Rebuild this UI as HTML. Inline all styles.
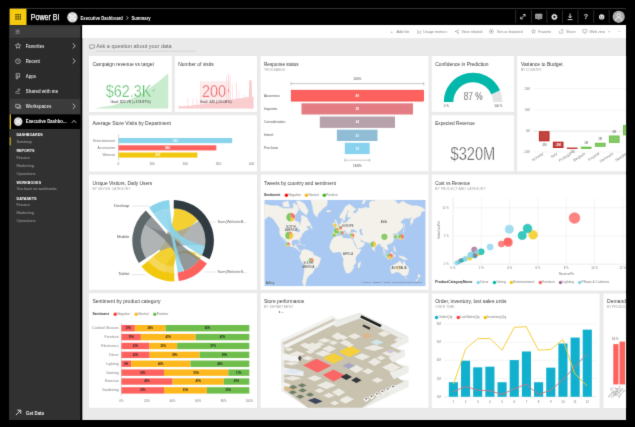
<!DOCTYPE html>
<html><head><meta charset="utf-8"><title>Power BI</title>
<style>
html,body{margin:0;padding:0;background:#000;}
body{width:635px;height:427px;overflow:hidden;font-family:"Liberation Sans",sans-serif;}
svg{display:block;position:absolute;left:0;top:0;}
text{font-family:"Liberation Sans",sans-serif;}
</style></head><body>
<svg width="635" height="427" viewBox="0 0 635 427" font-family="Liberation Sans, sans-serif">
<defs><filter id="soft" x="0" y="0" width="100%" height="100%" filterUnits="objectBoundingBox" color-interpolation-filters="sRGB"><feConvolveMatrix order="3" kernelMatrix="0.011 0.084 0.011 0.084 0.62 0.084 0.011 0.084 0.011" divisor="1" edgeMode="duplicate" preserveAlpha="true"/></filter><clipPath id="content"><rect x="9.5" y="8.4" width="616.6" height="411.6"/></clipPath></defs>
<g filter="url(#soft)"><rect x="0" y="0" width="635" height="427" fill="#000"/><g clip-path="url(#content)">
<rect x="9.50" y="8.40" width="616.70" height="411.70" fill="#eaeaea" />
<rect x="9.50" y="8.40" width="616.70" height="17.20" fill="#000" />
<rect x="9.50" y="8.40" width="17.00" height="17.20" fill="#f5cb10" />
<rect x="9.50" y="25.50" width="17.00" height="1.10" fill="#141f55" />
<rect x="9.50" y="25.60" width="72.80" height="394.40" fill="#000" />
<rect x="9.50" y="25.60" width="70.90" height="394.40" fill="#313131" />
<rect x="9.50" y="26.40" width="70.90" height="11.40" fill="#3c3c3c" />
<rect x="9.50" y="37.80" width="70.90" height="61.00" fill="#2b2b2b" />
<rect x="9.50" y="98.80" width="70.90" height="15.60" fill="#3b3b3b" />
<rect x="82.30" y="25.00" width="543.90" height="13.00" fill="#fff" />
<rect x="9.50" y="114.40" width="70.90" height="14.60" fill="#000" />
<rect x="9.50" y="114.40" width="1.40" height="14.60" fill="#f2c811" />
<rect x="9.50" y="137.30" width="1.20" height="8.00" fill="#f2c811" />
<rect x="15.30" y="14.00" width="1.40" height="1.40" fill="#3f3300" />
<rect x="15.30" y="16.15" width="1.40" height="1.40" fill="#3f3300" />
<rect x="15.30" y="18.30" width="1.40" height="1.40" fill="#3f3300" />
<rect x="17.45" y="14.00" width="1.40" height="1.40" fill="#3f3300" />
<rect x="17.45" y="16.15" width="1.40" height="1.40" fill="#3f3300" />
<rect x="17.45" y="18.30" width="1.40" height="1.40" fill="#3f3300" />
<rect x="19.60" y="14.00" width="1.40" height="1.40" fill="#3f3300" />
<rect x="19.60" y="16.15" width="1.40" height="1.40" fill="#3f3300" />
<rect x="19.60" y="18.30" width="1.40" height="1.40" fill="#3f3300" />
<text x="30.80" y="20.46" font-size="8.4" fill="#fff" textLength="28.70" lengthAdjust="spacingAndGlyphs" stroke="#fff" stroke-width="0.25">Power BI</text>
<circle cx="72.40" cy="17.30" r="5.20" fill="#d4d4d4" />
<path d="M69.2 14.1 L75.6 20.5 M75.6 14.1 L69.2 20.5" stroke="#f4f4f4" stroke-width="1.6" fill="none"/>
<circle cx="72.40" cy="17.30" r="1.60" fill="#e8e8e8" />
<text x="80.60" y="19.69" font-size="5" fill="#fff" font-weight="bold" textLength="42.30" lengthAdjust="spacingAndGlyphs" >Executive Dashboard</text>
<path d="M126.3 16.2 L128.3 17.9 L126.3 19.6" stroke="#fff" stroke-width="0.6" fill="none"/>
<text x="131.50" y="19.69" font-size="5" fill="#fff" font-weight="bold" textLength="19.10" lengthAdjust="spacingAndGlyphs" >Summary</text>
<line x1="515.70" y1="10.00" x2="515.70" y2="23.00" stroke="#3c3c3c" stroke-width="0.7" />
<line x1="531.40" y1="10.00" x2="531.40" y2="23.00" stroke="#3c3c3c" stroke-width="0.7" />
<line x1="546.90" y1="10.00" x2="546.90" y2="23.00" stroke="#3c3c3c" stroke-width="0.7" />
<line x1="562.40" y1="10.00" x2="562.40" y2="23.00" stroke="#3c3c3c" stroke-width="0.7" />
<line x1="578.00" y1="10.00" x2="578.00" y2="23.00" stroke="#3c3c3c" stroke-width="0.7" />
<line x1="593.70" y1="10.00" x2="593.70" y2="23.00" stroke="#3c3c3c" stroke-width="0.7" />
<line x1="609.20" y1="10.00" x2="609.20" y2="23.00" stroke="#3c3c3c" stroke-width="0.7" />
<path d="M520.9 18.7 L524.9 14.7 M523 14.5 L525.1 14.5 L525.1 16.6 M520.7 16.8 L520.7 18.9 L522.8 18.9" stroke="#e4e4e4" stroke-width="0.8" fill="none"/>
<path d="M535.6 14.1 H541.9 V18.6 H539.7 L538.8 19.8 L537.9 18.6 H535.6 Z" stroke="#d8d8d8" stroke-width="0.6" fill="#7d7d7d"/>
<line x1="536.70" y1="15.60" x2="540.80" y2="15.60" stroke="#d0d0d0" stroke-width="0.45" />
<line x1="536.70" y1="17.00" x2="540.80" y2="17.00" stroke="#d0d0d0" stroke-width="0.45" />
<circle cx="554.40" cy="16.90" r="1.85" fill="none" stroke="#e4e4e4" stroke-width="1.5"/>
<circle cx="554.40" cy="16.90" r="2.80" fill="none" stroke="#e4e4e4" stroke-width="0.8" stroke-dasharray="1.0 1.2"/>
<path d="M570.1 13.6 V17.8 M568.5 16.3 L570.1 17.9 L571.7 16.3" stroke="#e4e4e4" stroke-width="0.95" fill="none"/>
<line x1="567.70" y1="19.60" x2="572.50" y2="19.60" stroke="#e4e4e4" stroke-width="0.9" />
<text x="586.00" y="19.41" font-size="7" fill="#e4e4e4" font-weight="bold" text-anchor="middle" >?</text>
<circle cx="601.70" cy="16.90" r="2.70" fill="#e4e4e4" />
<circle cx="600.70" cy="16.20" r="0.45" fill="#111" />
<circle cx="602.70" cy="16.20" r="0.45" fill="#111" />
<path d="M600.2 17.6 Q601.7 19.2 603.2 17.6" stroke="#111" stroke-width="0.5" fill="none"/>
<circle cx="618.70" cy="16.80" r="6.10" fill="#adadad" />
<circle cx="618.70" cy="15.30" r="1.70" fill="none" stroke="#fff" stroke-width="0.7"/>
<path d="M615.5 20.8 Q615.5 17.6 618.7 17.6 Q621.9 17.6 621.9 20.8" stroke="#fff" stroke-width="0.7" fill="none"/>
<line x1="15.60" y1="30.20" x2="19.60" y2="30.20" stroke="#bdbdbd" stroke-width="0.55" />
<line x1="15.60" y1="31.70" x2="19.60" y2="31.70" stroke="#bdbdbd" stroke-width="0.55" />
<line x1="15.60" y1="33.20" x2="19.60" y2="33.20" stroke="#bdbdbd" stroke-width="0.55" />
<polygon points="18.00,43.20 18.74,44.98 20.66,45.13 19.20,46.39 19.65,48.27 18.00,47.26 16.35,48.27 16.80,46.39 15.34,45.13 17.26,44.98" fill="none" stroke="#ddd" stroke-width="0.6" stroke-linejoin="round"/>
<text x="25.80" y="47.65" font-size="4.6" fill="#dcdcdc" font-weight="bold" textLength="18.60" lengthAdjust="spacingAndGlyphs" >Favorites</text>
<path d="M72.70 43.40 L75.30 45.90 L72.70 48.40" stroke="#c4c4c4" stroke-width="0.9" fill="none"/>
<circle cx="18.00" cy="61.20" r="2.40" fill="none" stroke="#ddd" stroke-width="0.6"/>
<path d="M18 59.8 V61.3 H19.2" stroke="#ddd" stroke-width="0.5" fill="none"/>
<text x="25.80" y="62.85" font-size="4.6" fill="#dcdcdc" font-weight="bold" textLength="14.20" lengthAdjust="spacingAndGlyphs" >Recent</text>
<path d="M72.70 58.50 L75.30 61.00 L72.70 63.50" stroke="#c4c4c4" stroke-width="0.9" fill="none"/>
<path d="M16.2 73.6 H19.6 V77.2 H17.6 V78.8 H16.2 Z M17.6 77.2 V75" stroke="#ddd" stroke-width="0.6" fill="none"/>
<text x="25.80" y="77.95" font-size="4.6" fill="#dcdcdc" font-weight="bold" textLength="10.30" lengthAdjust="spacingAndGlyphs" >Apps</text>
<circle cx="18.90" cy="89.60" r="0.90" fill="none" stroke="#ddd" stroke-width="0.55"/>
<path d="M15.6 93.3 Q15.8 90.8 17.4 91.5 L18.6 91.2 M16.6 93.5 L20 93.2" stroke="#ddd" stroke-width="0.55" fill="none"/>
<text x="25.80" y="92.95" font-size="4.6" fill="#dcdcdc" font-weight="bold" textLength="32.30" lengthAdjust="spacingAndGlyphs" >Shared with me</text>
<path d="M15.7 104.4 H19.3 V107.3 H15.7 Z M17 107.3 V108.3 H20.6 V105.6 H19.3" stroke="#ddd" stroke-width="0.6" fill="none"/>
<text x="25.80" y="108.05" font-size="4.6" fill="#dcdcdc" font-weight="bold" textLength="25.60" lengthAdjust="spacingAndGlyphs" >Workspaces</text>
<path d="M72.70 103.80 L75.30 106.30 L72.70 108.80" stroke="#c4c4c4" stroke-width="0.9" fill="none"/>
<circle cx="18.20" cy="121.60" r="4.30" fill="#cfcfcf" />
<path d="M15.6 119 L20.8 124.2 M20.8 119 L15.6 124.2" stroke="#efefef" stroke-width="1.3" fill="none"/>
<text x="25.80" y="123.25" font-size="4.6" fill="#fff" font-weight="bold" textLength="40.80" lengthAdjust="spacingAndGlyphs" >Executive Dashbo...</text>
<path d="M71.8 122.8 L74 120.4 L76.2 122.8" stroke="#e8e8e8" stroke-width="0.8" fill="none"/>
<text x="16.40" y="136.20" font-size="3.9" fill="#fff" font-weight="bold" textLength="26.40" lengthAdjust="spacingAndGlyphs" >DASHBOARDS</text>
<text x="16.40" y="142.51" font-size="3.9" fill="#a8a8a8" textLength="15.50" lengthAdjust="spacingAndGlyphs" >Summary</text>
<text x="16.40" y="152.30" font-size="3.9" fill="#fff" font-weight="bold" textLength="18.10" lengthAdjust="spacingAndGlyphs" >REPORTS</text>
<text x="16.40" y="158.61" font-size="3.9" fill="#a8a8a8" textLength="13.40" lengthAdjust="spacingAndGlyphs" >Finance</text>
<text x="16.40" y="166.71" font-size="3.9" fill="#a8a8a8" textLength="17.60" lengthAdjust="spacingAndGlyphs" >Marketing</text>
<text x="16.40" y="174.81" font-size="3.9" fill="#a8a8a8" textLength="19.40" lengthAdjust="spacingAndGlyphs" >Operations</text>
<text x="16.40" y="184.00" font-size="3.9" fill="#fff" font-weight="bold" textLength="24.70" lengthAdjust="spacingAndGlyphs" >WORKBOOKS</text>
<text x="16.40" y="190.41" font-size="3.9" fill="#a8a8a8" textLength="40.30" lengthAdjust="spacingAndGlyphs" >You have no workbooks</text>
<text x="16.40" y="200.10" font-size="3.9" fill="#fff" font-weight="bold" textLength="20.20" lengthAdjust="spacingAndGlyphs" >DATASETS</text>
<text x="16.40" y="206.21" font-size="3.9" fill="#a8a8a8" textLength="13.40" lengthAdjust="spacingAndGlyphs" >Finance</text>
<text x="16.40" y="214.31" font-size="3.9" fill="#a8a8a8" textLength="17.60" lengthAdjust="spacingAndGlyphs" >Marketing</text>
<text x="16.40" y="222.41" font-size="3.9" fill="#a8a8a8" textLength="19.40" lengthAdjust="spacingAndGlyphs" >Operations</text>
<path d="M15.9 415.1 L20.4 410.6 M17.2 410.2 H20.8 V413.8" stroke="#e8e8e8" stroke-width="0.9" fill="none"/>
<text x="26.00" y="414.85" font-size="4.6" fill="#eee" font-weight="bold" textLength="18.00" lengthAdjust="spacingAndGlyphs" >Get Data</text>
<text x="396.50" y="32.54" font-size="3.6" fill="#858585" textLength="13.00" lengthAdjust="spacingAndGlyphs" >Add tile</text>
<text x="390.60" y="32.90" font-size="4.2" fill="#858585" >+</text>
<text x="423.30" y="32.54" font-size="3.6" fill="#858585" textLength="23.70" lengthAdjust="spacingAndGlyphs" >Usage metrics</text>
<path d="M417.8 32.8 L419.1 31.2 L420.1 32.2 L421.4 30.4 M417.6 30 V33.2 H421.6" stroke="#858585" stroke-width="0.4" fill="none"/>
<text x="461.50" y="32.54" font-size="3.6" fill="#858585" textLength="20.90" lengthAdjust="spacingAndGlyphs" >View related</text>
<path d="M458 30.2 L455.8 31.5 L458 32.9" stroke="#858585" stroke-width="0.45" fill="none"/>
<circle cx="458.10" cy="30.20" r="0.55" fill="#858585" />
<circle cx="455.70" cy="31.50" r="0.55" fill="#858585" />
<circle cx="458.10" cy="32.90" r="0.55" fill="#858585" />
<text x="496.90" y="32.54" font-size="3.6" fill="#858585" textLength="25.60" lengthAdjust="spacingAndGlyphs" >Set as featured</text>
<circle cx="491.40" cy="31.40" r="1.90" fill="none" stroke="#858585" stroke-width="0.5"/>
<circle cx="491.40" cy="31.40" r="0.70" fill="#858585" />
<text x="538.30" y="32.54" font-size="3.6" fill="#858585" textLength="13.00" lengthAdjust="spacingAndGlyphs" >Favorite</text>
<polygon points="533.50,29.40 534.06,30.74 535.50,30.85 534.40,31.79 534.73,33.20 533.50,32.45 532.27,33.20 532.60,31.79 531.50,30.85 532.94,30.74" fill="none" stroke="#858585" stroke-width="0.45" stroke-linejoin="round"/>
<text x="566.20" y="32.54" font-size="3.6" fill="#858585" textLength="9.50" lengthAdjust="spacingAndGlyphs" >Share</text>
<path d="M559.4 31 V33.2 H562.8 V31 M560.3 30.8 Q561.3 29.6 562.7 29.8 M562 29 L563.2 29.9 L562.1 30.9" stroke="#858585" stroke-width="0.45" fill="none"/>
<text x="589.40" y="32.54" font-size="3.6" fill="#858585" textLength="15.80" lengthAdjust="spacingAndGlyphs" >Web view</text>
<path d="M582.8 29.6 H586.8 V32.3 H582.8 Z M584.1 33.3 H585.5" stroke="#858585" stroke-width="0.45" fill="none"/>
<path d="M607.8 31 L609 32.2 L610.2 31" stroke="#858585" stroke-width="0.45" fill="none"/>
<circle cx="618.20" cy="31.60" r="0.35" fill="#999" />
<circle cx="619.50" cy="31.60" r="0.35" fill="#999" />
<circle cx="620.80" cy="31.60" r="0.35" fill="#999" />
<path d="M89.6 44.9 H94.4 V48.1 H92 L91 49.2 V48.1 H89.6 Z" stroke="#707070" stroke-width="0.55" fill="none"/>
<text x="96.20" y="48.36" font-size="5.6" fill="#666" textLength="75.40" lengthAdjust="spacingAndGlyphs" >Ask a question about your data</text>
<line x1="96.00" y1="51.20" x2="196.00" y2="51.20" stroke="#bdbdbd" stroke-width="0.5" />
<rect x="89.00" y="56.00" width="82.80" height="56.00" fill="#fff" />
<rect x="174.90" y="56.00" width="82.10" height="56.00" fill="#fff" />
<rect x="260.60" y="56.00" width="168.00" height="115.30" fill="#fff" />
<rect x="431.70" y="56.00" width="82.30" height="55.90" fill="#fff" />
<rect x="431.70" y="115.20" width="82.30" height="56.10" fill="#fff" />
<rect x="517.20" y="56.00" width="172.80" height="115.30" fill="#fff" />
<rect x="89.00" y="115.30" width="168.00" height="56.20" fill="#fff" />
<rect x="89.00" y="174.60" width="168.00" height="115.20" fill="#fff" />
<rect x="260.60" y="174.60" width="168.00" height="115.20" fill="#fff" />
<rect x="431.70" y="174.60" width="258.30" height="116.00" fill="#fff" />
<rect x="89.00" y="293.20" width="168.00" height="114.60" fill="#fff" />
<rect x="260.60" y="293.20" width="168.00" height="114.60" fill="#fff" />
<rect x="431.70" y="293.60" width="167.90" height="114.40" fill="#fff" />
<rect x="603.50" y="293.60" width="86.50" height="114.40" fill="#fff" />
<text x="92.40" y="66.30" font-size="5.6" fill="#3a3a3a" textLength="61.50" lengthAdjust="spacingAndGlyphs" >Campaign revenue vs target</text>
<path d="M93.6 108.4 L113.6 105.2 L127.9 100.4 L142.1 93.6 L156.4 83.2 L168.3 73.6 L168.3 108.4 Z" fill="#c9ebce"/>
<mask id="tm1" maskUnits="userSpaceOnUse" x="100.7" y="73.8" width="55.7" height="33.6"><text x="105.70" y="96.61" font-size="16.8" fill="#fff" stroke="#000" stroke-width="0.55" textLength="45.70" lengthAdjust="spacingAndGlyphs">$62.3K</text></mask>
<rect x="100.7" y="73.8" width="55.7" height="33.6" fill="#3db34d" mask="url(#tm1)"/>
<path d="M152.4 90.4 L153.3 91.4 L154.9 89.2" stroke="#43b553" stroke-width="0.5" fill="none"/>
<text x="110.40" y="102.92" font-size="3.7" fill="#333" textLength="40.30" lengthAdjust="spacingAndGlyphs" >Goal: $22.7K (+174.97%)</text>
<text x="178.30" y="66.30" font-size="5.6" fill="#3a3a3a" textLength="35.30" lengthAdjust="spacingAndGlyphs" >Number of visits</text>
<path d="M178.6 108.4 L178.6 106.6 L190 105.8 L200 104.6 L212 102.6 L225 100.6 L238 98.6 L246 97.6 L253.6 96.4 L253.6 108.4 Z" fill="#facdcf"/>
<rect x="200.60" y="81.00" width="29.40" height="27.40" fill="#facdcf" opacity="0.35"/>
<rect x="179.25" y="105.00" width="0.70" height="3.40" fill="#facdcf" opacity="1"/>
<rect x="187.60" y="98.00" width="0.60" height="10.40" fill="#facdcf" opacity="1"/>
<rect x="192.60" y="98.50" width="0.60" height="9.90" fill="#facdcf" opacity="1"/>
<rect x="196.70" y="97.50" width="0.60" height="10.90" fill="#facdcf" opacity="1"/>
<rect x="200.40" y="80.60" width="0.60" height="27.80" fill="#facdcf" opacity="0.8"/>
<rect x="203.75" y="92.00" width="0.50" height="16.40" fill="#facdcf" opacity="0.6"/>
<rect x="207.75" y="90.00" width="0.50" height="18.40" fill="#facdcf" opacity="0.6"/>
<rect x="212.25" y="88.00" width="0.50" height="20.40" fill="#facdcf" opacity="0.6"/>
<rect x="216.75" y="86.00" width="0.50" height="22.40" fill="#facdcf" opacity="0.6"/>
<rect x="221.25" y="88.00" width="0.50" height="20.40" fill="#facdcf" opacity="0.6"/>
<rect x="226.25" y="76.00" width="0.70" height="32.40" fill="#facdcf" opacity="0.8"/>
<rect x="228.00" y="73.40" width="0.80" height="35.00" fill="#facdcf" opacity="0.9"/>
<rect x="229.85" y="75.00" width="0.70" height="33.40" fill="#facdcf" opacity="0.8"/>
<rect x="232.20" y="84.00" width="0.60" height="24.40" fill="#facdcf" opacity="0.7"/>
<rect x="235.95" y="82.50" width="0.70" height="25.90" fill="#facdcf" opacity="1"/>
<rect x="238.75" y="90.00" width="0.50" height="18.40" fill="#facdcf" opacity="0.8"/>
<rect x="243.90" y="95.00" width="0.60" height="13.40" fill="#facdcf" opacity="1"/>
<rect x="246.75" y="96.00" width="0.50" height="12.40" fill="#facdcf" opacity="0.8"/>
<path d="M248.6 108.4 L249.2 80.2 L251.7 80.2 L252.3 108.4 Z" fill="#facdcf"/>
<mask id="tm2" maskUnits="userSpaceOnUse" x="197.1" y="74.8" width="33.9" height="32.2"><text x="202.10" y="96.61" font-size="16.1" fill="#fff" stroke="#000" stroke-width="0.55" textLength="23.90" lengthAdjust="spacingAndGlyphs">200</text></mask>
<rect x="197.1" y="74.8" width="33.9" height="32.2" fill="#ec474c" mask="url(#tm2)"/>
<text x="227.60" y="93.05" font-size="6" fill="#ee4b50" >!</text>
<text x="199.70" y="102.92" font-size="3.7" fill="#333" textLength="32.00" lengthAdjust="spacingAndGlyphs" >Goal: 445 (-55.06%)</text>
<text x="264.00" y="66.30" font-size="5.6" fill="#3a3a3a" textLength="34.70" lengthAdjust="spacingAndGlyphs" >Response status</text>
<text x="264.00" y="71.08" font-size="3.3" fill="#a0a0a0" textLength="21.00" lengthAdjust="spacing" >THOUSANDS</text>
<rect x="291.20" y="90.20" width="132.40" height="10.90" fill="#fd625e" stroke="#ee3b37" stroke-width="0.6"/>
<text x="264.00" y="96.51" font-size="3.3" fill="#555" textLength="15.80" lengthAdjust="spacingAndGlyphs" >Awareness</text>
<text x="357.30" y="96.80" font-size="3.2" fill="#fff" font-weight="bold" text-anchor="middle" >49</text>
<rect x="301.50" y="103.30" width="111.50" height="11.20" fill="#e47c83" />
<text x="264.00" y="109.76" font-size="3.3" fill="#555" textLength="13.40" lengthAdjust="spacingAndGlyphs" >Inquiries</text>
<text x="357.30" y="110.05" font-size="3.2" fill="#fff" font-weight="bold" text-anchor="middle" >38</text>
<rect x="319.80" y="116.50" width="75.20" height="11.40" fill="#b7a1ab" />
<text x="264.00" y="123.06" font-size="3.3" fill="#555" textLength="21.40" lengthAdjust="spacingAndGlyphs" >Consideration</text>
<text x="357.30" y="123.35" font-size="3.2" fill="#fff" font-weight="bold" text-anchor="middle" >34</text>
<rect x="336.90" y="129.70" width="40.60" height="11.30" fill="#8fbdd5" />
<text x="264.00" y="136.21" font-size="3.3" fill="#555" textLength="9.20" lengthAdjust="spacingAndGlyphs" >Intent</text>
<text x="357.30" y="136.50" font-size="3.2" fill="#fff" font-weight="bold" text-anchor="middle" >21</text>
<rect x="344.80" y="142.80" width="24.90" height="11.30" fill="#88d2ef" />
<text x="264.00" y="149.31" font-size="3.3" fill="#555" textLength="14.20" lengthAdjust="spacingAndGlyphs" >Purchase</text>
<text x="357.30" y="149.60" font-size="3.2" fill="#fff" font-weight="bold" text-anchor="middle" >13</text>
<line x1="291.00" y1="83.60" x2="423.80" y2="83.60" stroke="#777" stroke-width="0.4" />
<line x1="291.00" y1="82.00" x2="291.00" y2="85.20" stroke="#777" stroke-width="0.4" />
<line x1="423.80" y1="82.00" x2="423.80" y2="85.20" stroke="#777" stroke-width="0.4" />
<text x="357.30" y="80.01" font-size="3.1" fill="#444" text-anchor="middle" >100%</text>
<line x1="344.80" y1="160.20" x2="369.70" y2="160.20" stroke="#777" stroke-width="0.4" />
<line x1="344.80" y1="158.60" x2="344.80" y2="161.80" stroke="#777" stroke-width="0.4" />
<line x1="369.70" y1="158.60" x2="369.70" y2="161.80" stroke="#777" stroke-width="0.4" />
<text x="357.30" y="166.71" font-size="3.1" fill="#444" text-anchor="middle" >18.8%</text>
<text x="435.20" y="66.30" font-size="5.6" fill="#3a3a3a" textLength="53.40" lengthAdjust="spacingAndGlyphs" >Confidence in Prediction</text>
<path d="M443.80 102.00 A29.3 29.3 0 0 1 502.40 102.00 L492.90 102.00 A19.8 19.8 0 0 0 453.30 102.00 Z" fill="#e4e4e4"/>
<path d="M443.80 102.00 A29.3 29.3 0 0 1 499.99 90.36 L491.27 94.14 A19.8 19.8 0 0 0 453.30 102.00 Z" fill="#01b8aa"/>
<mask id="tm3" maskUnits="userSpaceOnUse" x="458.7" y="85.9" width="28.8" height="21.2"><text x="463.70" y="100.29" font-size="10.6" fill="#fff" stroke="#000" stroke-width="0.25" textLength="18.80" lengthAdjust="spacingAndGlyphs">87 %</text></mask>
<rect x="458.7" y="85.9" width="28.8" height="21.2" fill="#444" mask="url(#tm3)"/>
<text x="446.30" y="106.64" font-size="2.9" fill="#444" text-anchor="middle" >0 %</text>
<text x="498.30" y="106.64" font-size="2.9" fill="#444" text-anchor="middle" >100 %</text>
<text x="435.20" y="125.40" font-size="5.6" fill="#3a3a3a" textLength="39.60" lengthAdjust="spacingAndGlyphs" >Expected Revenue</text>
<mask id="tm4" maskUnits="userSpaceOnUse" x="445.5" y="134.7" width="54.7" height="37.6"><text x="450.50" y="160.23" font-size="18.8" fill="#fff" stroke="#000" stroke-width="0.6" textLength="44.70" lengthAdjust="spacingAndGlyphs">$320M</text></mask>
<rect x="445.5" y="134.7" width="54.7" height="37.6" fill="#404040" mask="url(#tm4)"/>
<text x="521.00" y="66.30" font-size="5.6" fill="#3a3a3a" textLength="41.50" lengthAdjust="spacingAndGlyphs" >Variance to Budget</text>
<text x="521.00" y="71.08" font-size="3.3" fill="#a0a0a0" textLength="20.70" lengthAdjust="spacing" >BY COUNTRY</text>
<line x1="533.70" y1="88.60" x2="626.00" y2="88.60" stroke="#e2e2e2" stroke-width="0.4" />
<text x="530.00" y="89.64" font-size="2.9" fill="#888" text-anchor="end" >20M</text>
<line x1="533.70" y1="110.00" x2="626.00" y2="110.00" stroke="#e2e2e2" stroke-width="0.4" />
<text x="530.00" y="111.04" font-size="2.9" fill="#888" text-anchor="end" >10M</text>
<line x1="533.70" y1="131.20" x2="626.00" y2="131.20" stroke="#bbb" stroke-width="0.4" />
<text x="530.00" y="132.24" font-size="2.9" fill="#888" text-anchor="end" >0M</text>
<line x1="533.70" y1="152.00" x2="626.00" y2="152.00" stroke="#e2e2e2" stroke-width="0.4" />
<text x="530.00" y="153.04" font-size="2.9" fill="#888" text-anchor="end" >-10M</text>
<rect x="538.90" y="131.20" width="10.60" height="10.10" fill="#b8221d" />
<rect x="539.80" y="132.10" width="8.80" height="8.30" fill="#fff" opacity="0.16"/>
<rect x="552.90" y="141.70" width="10.60" height="6.30" fill="#b8221d" />
<rect x="553.80" y="142.60" width="8.80" height="4.50" fill="#fff" opacity="0.16"/>
<rect x="566.90" y="147.60" width="10.60" height="1.30" fill="#b8221d" />
<rect x="580.90" y="146.70" width="10.60" height="2.20" fill="#6dbf4a" />
<rect x="594.90" y="142.80" width="10.70" height="4.00" fill="#6dbf4a" />
<rect x="595.80" y="143.70" width="8.90" height="2.20" fill="#fff" opacity="0.16"/>
<rect x="608.90" y="135.50" width="10.70" height="7.40" fill="#6dbf4a" />
<rect x="609.80" y="136.40" width="8.90" height="5.60" fill="#fff" opacity="0.16"/>
<rect x="623.00" y="125.00" width="10.60" height="10.30" fill="#6dbf4a" />
<rect x="623.90" y="125.90" width="8.80" height="8.50" fill="#fff" opacity="0.16"/>
<text x="544.20" y="146.27" font-size="2.7" fill="#555" text-anchor="middle" >-5M</text>
<text x="558.20" y="145.67" font-size="3.0" fill="#fff" font-weight="bold" text-anchor="middle" >-3M</text>
<text x="572.20" y="153.17" font-size="2.7" fill="#555" text-anchor="middle" >-1M</text>
<text x="586.20" y="144.37" font-size="2.7" fill="#555" text-anchor="middle" >1M</text>
<text x="600.20" y="140.27" font-size="2.7" fill="#555" text-anchor="middle" >2M</text>
<text x="614.20" y="132.97" font-size="2.7" fill="#555" text-anchor="middle" >4M</text>
<text x="543.6" y="154.2" font-size="3.8" fill="#777" text-anchor="end" transform="rotate(-34 543.6 154.2)">Norway</text>
<text x="557.6" y="154.2" font-size="3.8" fill="#777" text-anchor="end" transform="rotate(-34 557.6 154.2)">Italy</text>
<text x="571.6" y="154.2" font-size="3.8" fill="#777" text-anchor="end" transform="rotate(-34 571.6 154.2)">Portugal</text>
<text x="585.6" y="154.2" font-size="3.8" fill="#777" text-anchor="end" transform="rotate(-34 585.6 154.2)">Belgium</text>
<text x="599.6" y="154.2" font-size="3.8" fill="#777" text-anchor="end" transform="rotate(-34 599.6 154.2)">Finland</text>
<text x="613.6" y="154.2" font-size="3.8" fill="#777" text-anchor="end" transform="rotate(-34 613.6 154.2)">Denmark</text>
<text x="627.6" y="154.2" font-size="3.8" fill="#777" text-anchor="end" transform="rotate(-34 627.6 154.2)">Sweden</text>
<text x="92.40" y="125.40" font-size="5.6" fill="#3a3a3a" textLength="78.60" lengthAdjust="spacingAndGlyphs" >Average Store Visits by Department</text>
<text x="118.50" y="165.38" font-size="3.3" fill="#777" text-anchor="middle" >0</text>
<text x="151.90" y="165.38" font-size="3.3" fill="#777" text-anchor="middle" >100</text>
<text x="185.20" y="165.38" font-size="3.3" fill="#777" text-anchor="middle" >200</text>
<text x="218.50" y="165.38" font-size="3.3" fill="#777" text-anchor="middle" >300</text>
<text x="251.60" y="165.38" font-size="3.3" fill="#777" text-anchor="middle" >400</text>
<line x1="118.50" y1="134.50" x2="118.50" y2="160.50" stroke="#999" stroke-width="0.4" />
<rect x="118.50" y="138.00" width="113.70" height="5.20" fill="#8ad4eb" />
<text x="115.20" y="141.51" font-size="3.5" fill="#777" text-anchor="end" textLength="22.00" lengthAdjust="spacingAndGlyphs" >Entertainment</text>
<text x="175.35" y="141.67" font-size="3.0" fill="#fff" font-weight="bold" text-anchor="middle" >343</text>
<rect x="118.50" y="145.30" width="97.80" height="5.10" fill="#fd625e" />
<text x="115.20" y="148.76" font-size="3.5" fill="#777" text-anchor="end" textLength="17.60" lengthAdjust="spacingAndGlyphs" >Accessories</text>
<text x="167.40" y="148.92" font-size="3.0" fill="#fff" font-weight="bold" text-anchor="middle" >296</text>
<rect x="118.50" y="152.50" width="78.90" height="5.10" fill="#f2c80f" />
<text x="115.20" y="155.96" font-size="3.5" fill="#777" text-anchor="end" textLength="12.60" lengthAdjust="spacingAndGlyphs" >Womens</text>
<text x="157.95" y="156.12" font-size="3.0" fill="#fff" font-weight="bold" text-anchor="middle" >237</text>
<text x="92.40" y="184.80" font-size="5.6" fill="#3a3a3a" textLength="59.70" lengthAdjust="spacingAndGlyphs" >Unique Visitors, Daily Users</text>
<text x="92.40" y="189.68" font-size="3.3" fill="#a0a0a0" textLength="38.00" lengthAdjust="spacing" >BY DEVICE CATEGORY</text>
<path d="M174.23 208.22 A32.5 32.5 0 0 1 198.00 219.81 Q173.10 240.70 173.10 273.20 A32.5 32.5 0 0 1 147.84 261.15 Q173.10 240.70 174.23 208.22 Z" fill="#f2c80f" opacity="0.85"/>
<path d="M174.23 273.18 A32.5 32.5 0 0 1 164.14 271.94 Q173.10 240.70 202.06 255.45 A32.5 32.5 0 0 1 199.06 260.26 Q173.10 240.70 174.23 273.18 Z" fill="#e9c21a" opacity="0.7"/>
<path d="M145.84 258.40 A32.5 32.5 0 0 1 144.95 224.45 Q173.10 240.70 198.71 220.69 A32.5 32.5 0 0 1 205.11 246.34 Q173.10 240.70 145.84 258.40 Z" fill="#9fa3a4" opacity="0.82"/>
<path d="M144.95 224.45 A32.5 32.5 0 0 1 151.35 216.55 Q173.10 240.70 200.04 258.87 A32.5 32.5 0 0 1 184.22 271.24 Q173.10 240.70 144.95 224.45 Z" fill="#6f7678" opacity="0.75"/>
<path d="M154.00 214.41 A32.5 32.5 0 0 1 165.24 209.17 Q173.10 240.70 205.28 245.22 A32.5 32.5 0 0 1 202.06 255.45 Q173.10 240.70 154.00 214.41 Z" fill="#8ad4eb" opacity="0.85"/>
<path d="M165.24 209.17 A32.5 32.5 0 0 1 169.99 208.35 Q173.10 240.70 183.68 271.43 A32.5 32.5 0 0 1 177.62 272.88 Q173.10 240.70 165.24 209.17 Z" fill="#8ad4eb" opacity="0.85"/>
<path d="M174.23 273.18 A32.5 32.5 0 0 1 147.84 261.15 L153.44 256.62 A25.299999999999997 25.299999999999997 0 0 0 173.98 265.98 Z" fill="#f7de78" opacity="0.55"/>
<path d="M173.81 199.91 A40.8 40.8 0 0 1 209.45 259.22 L201.88 255.36 A32.3 32.3 0 0 0 173.66 208.40 Z" fill="#2f3b41" />
<path d="M206.92 263.52 A40.8 40.8 0 0 1 178.78 281.10 L177.60 272.69 A32.3 32.3 0 0 0 199.88 258.76 Z" fill="#fd625e" />
<path d="M174.52 281.48 A40.8 40.8 0 0 1 141.39 266.38 L148.00 261.03 A32.3 32.3 0 0 0 174.23 272.98 Z" fill="#f2c80f" />
<path d="M138.88 262.92 A40.8 40.8 0 0 1 145.80 210.38 L151.49 216.70 A32.3 32.3 0 0 0 146.01 258.29 Z" fill="#5c6769" />
<path d="M149.12 207.69 A40.8 40.8 0 0 1 169.19 200.09 L170.00 208.55 A32.3 32.3 0 0 0 154.11 214.57 Z" fill="#8ad4eb" />
<line x1="171.42" y1="198.93" x2="171.94" y2="211.72" stroke="#fff" stroke-width="1.5" stroke-linecap="round"/>
<line x1="146.79" y1="208.22" x2="166.81" y2="232.93" stroke="#fff" stroke-width="1.5" stroke-linecap="round"/>
<line x1="139.28" y1="265.27" x2="159.35" y2="250.69" stroke="#fff" stroke-width="1.5" stroke-linecap="round"/>
<line x1="176.74" y1="282.34" x2="175.19" y2="264.61" stroke="#fff" stroke-width="1.5" stroke-linecap="round"/>
<line x1="209.12" y1="261.92" x2="196.36" y2="254.40" stroke="#fff" stroke-width="1.5" stroke-linecap="round"/>
<line x1="131.40" y1="206.00" x2="150.00" y2="206.00" stroke="#bbb" stroke-width="0.35" />
<text x="129.40" y="206.88" font-size="3.4" fill="#555" text-anchor="end" textLength="15.40" lengthAdjust="spacingAndGlyphs" >Desktop</text>
<text x="129.40" y="237.88" font-size="3.4" fill="#555" text-anchor="end" textLength="12.40" lengthAdjust="spacingAndGlyphs" >Mobile</text>
<line x1="131.00" y1="274.60" x2="146.00" y2="274.60" stroke="#bbb" stroke-width="0.35" />
<text x="129.40" y="275.48" font-size="3.4" fill="#555" text-anchor="end" textLength="11.20" lengthAdjust="spacingAndGlyphs" >Tablet</text>
<line x1="209.00" y1="222.00" x2="216.00" y2="222.00" stroke="#bbb" stroke-width="0.35" />
<text x="217.50" y="222.88" font-size="3.4" fill="#666" textLength="29.00" lengthAdjust="spacingAndGlyphs" >Sum(WebsiteB...</text>
<line x1="204.00" y1="272.00" x2="216.00" y2="272.00" stroke="#bbb" stroke-width="0.35" />
<text x="217.50" y="272.88" font-size="3.4" fill="#666" textLength="29.00" lengthAdjust="spacingAndGlyphs" >Sum(WebsiteS...</text>
<text x="264.00" y="184.80" font-size="5.6" fill="#3a3a3a" textLength="72.00" lengthAdjust="spacingAndGlyphs" >Tweets by country and sentiment</text>
<text x="264.00" y="195.98" font-size="3.0" fill="#333" font-weight="bold" textLength="16.40" lengthAdjust="spacingAndGlyphs" >Sentiment</text>
<circle cx="286.40" cy="195.20" r="1.70" fill="#fd0d0d" />
<text x="288.40" y="195.98" font-size="3.0" fill="#777" textLength="12.50" lengthAdjust="spacingAndGlyphs" >Negative</text>
<circle cx="306.40" cy="195.20" r="1.70" fill="#fcb714" />
<text x="308.40" y="195.98" font-size="3.0" fill="#777" textLength="10.20" lengthAdjust="spacingAndGlyphs" >Neutral</text>
<circle cx="324.30" cy="195.20" r="1.70" fill="#3fb618" />
<text x="326.30" y="195.98" font-size="3.0" fill="#777" textLength="11.40" lengthAdjust="spacingAndGlyphs" >Positive</text>
<clipPath id="mapclip"><rect x="264.3" y="199.8" width="161.39999999999998" height="86.5"/></clipPath>
<g clip-path="url(#mapclip)">
<rect x="264.30" y="199.80" width="161.40" height="86.50" fill="#a9c9f3" />
<polygon points="258.84,210.81 261.65,205.47 264.45,203.97 271.47,205.47 277.55,205.47 283.63,208.25 286.90,208.25 292.98,208.25 293.45,202.40 297.65,205.47 299.06,209.56 296.72,213.18 293.91,216.42 294.38,220.30 299.06,222.09 299.99,225.41 300.46,222.95 301.39,219.37 300.93,215.38 303.27,215.38 307.01,217.44 308.88,221.21 311.21,224.61 309.34,226.19 306.54,226.19 307.01,227.72 308.88,229.18 306.54,230.59 304.67,231.28 304.20,232.62 302.80,233.28 301.86,235.19 301.86,236.43 299.52,238.81 299.99,241.09 299.52,242.20 298.59,239.96 297.65,239.39 295.32,239.96 293.45,239.96 292.04,241.09 291.58,243.84 292.98,245.96 294.85,245.96 295.32,244.37 296.72,244.37 296.25,247.01 298.12,247.53 298.59,250.08 300.46,250.59 301.39,251.09 299.99,251.60 297.65,250.08 296.25,248.55 293.45,247.01 292.04,247.01 288.30,244.91 287.83,243.30 285.96,241.09 284.56,238.81 283.63,238.81 285.96,243.30 285.03,241.65 283.63,239.96 282.69,237.63 280.82,236.43 279.42,233.28 279.42,228.46 277.55,225.41 275.21,222.09 273.34,219.37 271.00,217.44 268.20,216.42 266.32,218.42 263.52,220.30 260.25,222.09 263.52,218.42 261.65,217.44 259.78,215.38 262.12,213.18 258.84,210.81" fill="#f3f1ea" stroke="#e2dfd3" stroke-width="0.25"/>
<polygon points="299.99,200.74 304.67,203.97 308.41,210.81 306.54,215.38 303.73,213.18 300.93,210.81 297.65,205.47 296.25,200.74" fill="#f3f1ea" stroke="#e2dfd3" stroke-width="0.25"/>
<polygon points="282.22,202.40 288.30,200.74 289.70,206.89 283.63,206.89" fill="#f3f1ea" stroke="#e2dfd3" stroke-width="0.25"/>
<polygon points="278.95,195.12 285.96,198.98 292.98,198.98 299.99,197.11 302.33,190.67 307.01,179.02 295.32,175.19 281.29,188.16" fill="#f3f1ea" stroke="#e2dfd3" stroke-width="0.25"/>
<polygon points="309.81,228.09 312.62,228.46 311.45,225.01" fill="#f3f1ea" stroke="#e2dfd3" stroke-width="0.25"/>
<polygon points="303.27,190.67 309.34,195.12 312.15,205.47 313.55,213.18 316.83,217.44 318.70,213.18 323.37,208.25 327.11,205.47 328.05,197.11 328.98,185.42 318.70,175.19 309.34,179.02" fill="#f3f1ea" stroke="#e2dfd3" stroke-width="0.25"/>
<polygon points="301.39,251.09 303.73,249.07 308.41,250.08 313.08,252.60 314.02,255.10 316.83,256.10 321.03,258.10 320.10,261.13 319.16,264.24 317.76,266.90 314.96,268.55 312.62,273.17 310.75,274.38 308.41,276.27 307.01,278.92 305.60,284.01 305.60,288.11 303.73,286.41 302.33,281.74 303.27,276.92 304.20,270.81 304.67,264.24 301.86,262.16 299.52,257.60 299.99,255.10 300.93,253.60" fill="#f3f1ea" stroke="#e2dfd3" stroke-width="0.25"/>
<polygon points="333.19,235.19 333.19,231.28 336.93,230.94 335.53,227.72 338.34,225.41 341.14,222.95 341.14,220.30 342.54,221.21 343.48,222.95 346.75,222.09 348.62,219.37 351.43,217.44 347.69,217.44 347.22,213.18 349.09,210.81 347.69,210.81 345.82,215.38 344.88,220.30 343.01,221.21 342.54,218.42 339.74,218.42 339.74,215.38 343.01,210.81 344.88,206.89 349.09,203.97 351.43,205.47 356.57,209.56 353.77,210.81 353.30,213.18 355.17,213.18 357.97,210.81 357.97,208.25 362.65,208.25 365.46,206.89 369.20,208.25 369.20,202.40 371.53,200.74 374.81,200.74 378.08,197.11 384.16,192.98 386.50,191.85 390.24,198.98 395.85,200.74 398.19,203.97 402.86,200.74 407.54,203.97 412.22,205.47 416.89,205.47 421.57,206.89 426.24,210.81 421.57,212.02 420.63,215.38 416.89,217.44 413.62,219.37 413.15,222.09 410.81,225.41 410.35,220.30 412.22,216.42 409.88,218.42 404.27,218.42 400.53,222.09 403.33,224.61 402.86,227.72 399.59,231.28 398.19,231.96 397.25,233.93 396.32,235.19 396.32,236.43 397.72,236.43 397.72,235.19 395.85,233.28 393.98,233.93 392.58,233.93 394.45,235.19 393.04,236.43 393.98,238.81 393.51,241.09 391.64,243.30 388.84,244.37 387.90,244.37 386.97,245.44 388.37,249.07 386.97,250.59 386.03,250.08 384.16,248.55 384.16,250.59 385.56,253.10 386.03,254.60 384.63,253.60 383.22,251.09 383.22,247.01 381.35,247.01 379.95,243.84 378.08,244.37 374.81,247.53 374.81,250.08 373.41,251.09 371.53,247.01 371.07,244.37 368.73,242.75 365.92,242.20 364.05,241.65 361.25,239.96 359.84,239.39 361.25,241.65 363.59,242.20 364.99,243.84 363.12,246.49 358.44,248.55 357.51,248.55 355.64,244.37 353.77,240.53 353.30,238.81 354.23,235.82 351.43,235.82 350.03,235.19 349.56,233.28 350.96,232.62 353.77,231.96 356.57,232.62 356.57,231.28 354.70,229.89 352.83,229.18 351.43,229.18 350.49,231.96 348.62,233.28 348.15,234.57 347.22,233.93 346.28,231.96 343.95,229.89 343.01,230.59 344.88,232.62 345.82,233.28 344.88,234.57 344.41,233.28 342.08,230.59 338.80,231.28 337.40,233.93 336.46,235.19 335.06,235.82 333.19,235.19" fill="#f3f1ea" stroke="#e2dfd3" stroke-width="0.25"/>
<polygon points="334.59,236.43 342.08,235.19 342.54,237.63 346.75,238.23 349.09,238.23 352.36,238.81 353.30,241.09 354.70,244.91 357.51,249.07 361.25,249.07 359.84,252.60 357.04,255.60 355.64,258.10 356.10,262.67 353.77,265.29 353.77,268.00 351.90,270.81 349.56,273.17 346.28,273.17 344.41,269.11 343.01,263.71 343.48,259.11 341.61,255.60 341.61,253.10 339.27,252.10 335.53,252.60 333.66,253.10 331.32,251.09 329.45,248.04 329.92,244.91 331.32,241.09 332.72,238.81" fill="#f3f1ea" stroke="#e2dfd3" stroke-width="0.25"/>
<polygon points="357.97,268.00 359.38,268.00 360.78,263.19 360.31,261.13 357.97,263.71" fill="#f3f1ea" stroke="#e2dfd3" stroke-width="0.25"/>
<polygon points="390.71,266.36 394.45,264.24 397.72,262.67 398.66,261.13 400.99,261.13 400.99,262.67 402.86,263.71 403.80,260.62 405.67,264.76 408.94,268.00 408.94,271.39 407.54,275.01 405.67,276.27 402.86,275.63 400.53,273.77 398.19,271.97 395.38,272.57 392.58,273.77 391.17,273.17 390.24,268.55" fill="#f3f1ea" stroke="#e2dfd3" stroke-width="0.25"/>
<polygon points="405.20,277.58 406.60,277.58 406.14,279.26" fill="#f3f1ea" stroke="#e2dfd3" stroke-width="0.25"/>
<polygon points="418.29,273.77 420.63,275.63 419.23,277.58 417.83,277.58" fill="#f3f1ea" stroke="#e2dfd3" stroke-width="0.25"/>
<polygon points="415.49,281.02 417.36,278.92 418.76,278.24 416.42,281.74" fill="#f3f1ea" stroke="#e2dfd3" stroke-width="0.25"/>
<polygon points="381.82,252.60 386.03,256.60 386.97,258.10 384.63,256.10" fill="#f3f1ea" stroke="#e2dfd3" stroke-width="0.25"/>
<polygon points="388.37,254.60 392.11,251.60 393.04,254.60 391.64,257.10 388.84,256.60" fill="#f3f1ea" stroke="#e2dfd3" stroke-width="0.25"/>
<polygon points="386.50,258.60 390.71,259.11 388.84,259.36" fill="#f3f1ea" stroke="#e2dfd3" stroke-width="0.25"/>
<polygon points="393.04,257.60 393.98,254.60 395.85,254.60 394.45,257.10" fill="#f3f1ea" stroke="#e2dfd3" stroke-width="0.25"/>
<polygon points="398.66,255.60 403.33,256.60 406.14,258.10 407.54,260.12 403.33,259.61 401.93,258.60 399.12,257.10" fill="#f3f1ea" stroke="#e2dfd3" stroke-width="0.25"/>
<polygon points="393.51,245.96 394.45,245.96 395.38,249.07 396.32,251.60 394.45,251.60 393.51,248.55" fill="#f3f1ea" stroke="#e2dfd3" stroke-width="0.25"/>
<polygon points="398.19,238.81 398.66,237.03 400.99,236.43 402.86,235.82 403.33,233.28 403.33,229.89 405.20,230.59 403.33,231.96 402.86,234.57 401.46,235.19 399.59,235.82" fill="#f3f1ea" stroke="#e2dfd3" stroke-width="0.25"/>
<polygon points="403.80,229.18 404.27,222.95 404.73,226.19" fill="#f3f1ea" stroke="#e2dfd3" stroke-width="0.25"/>
<polygon points="374.81,250.59 375.74,251.60 374.81,252.10" fill="#f3f1ea" stroke="#e2dfd3" stroke-width="0.25"/>
<polygon points="335.06,226.19 337.87,225.41 337.40,223.79 336.46,221.21 336.00,219.37 334.59,220.30 336.00,222.95 335.06,224.61" fill="#f3f1ea" stroke="#e2dfd3" stroke-width="0.25"/>
<polygon points="332.72,224.61 334.59,224.61 334.59,222.09 333.19,222.95" fill="#f3f1ea" stroke="#e2dfd3" stroke-width="0.25"/>
<polygon points="326.18,212.02 330.85,212.02 330.39,210.19 327.11,210.19" fill="#f3f1ea" stroke="#e2dfd3" stroke-width="0.25"/>
<polygon points="361.72,203.97 364.05,203.97 369.20,192.98 365.46,195.12" fill="#f3f1ea" stroke="#e2dfd3" stroke-width="0.25"/>
<polygon points="342.54,188.16 346.75,192.98 350.49,185.42 345.82,183.95" fill="#f3f1ea" stroke="#e2dfd3" stroke-width="0.25"/>
<polygon points="381.82,188.16 386.50,190.67 384.16,182.40" fill="#f3f1ea" stroke="#e2dfd3" stroke-width="0.25"/>
<polygon points="297.65,243.84 302.33,244.91 301.39,244.11 299.06,243.30" fill="#f3f1ea" stroke="#e2dfd3" stroke-width="0.25"/>
<polygon points="302.80,245.70 305.14,245.96 304.67,244.91" fill="#f3f1ea" stroke="#e2dfd3" stroke-width="0.25"/>
<polygon points="359.38,229.89 361.25,228.46 362.18,229.89 361.25,231.96 362.65,233.28 362.65,235.19 360.78,235.19 360.31,233.28 359.38,231.28" fill="#a9c9f3" />
<polygon points="294.38,228.46 297.65,227.34 298.12,229.18 299.99,229.54 299.99,231.28 298.59,231.96 296.72,231.96 296.25,229.54" fill="#a9c9f3" />
</g>
<circle cx="290.70" cy="217.20" r="4.65" fill="#fff" opacity="0.7"/>
<path d="M290.70 217.20 L290.70 212.80 A4.4 4.4 0 0 1 294.88 218.56 Z" fill="#fd625e" fill-opacity="0.9"/>
<path d="M290.70 217.20 L294.88 218.56 A4.4 4.4 0 0 1 290.70 221.60 Z" fill="#f5c226" fill-opacity="0.9"/>
<path d="M290.70 217.20 L290.70 221.60 A4.4 4.4 0 0 1 290.70 212.80 Z" fill="#74c24d" fill-opacity="0.9"/>
<circle cx="289.30" cy="235.40" r="4.25" fill="#fff" opacity="0.7"/>
<path d="M289.30 235.40 L289.30 231.40 A4.0 4.0 0 0 1 292.04 232.48 Z" fill="#fd625e" fill-opacity="0.9"/>
<path d="M289.30 235.40 L292.04 232.48 A4.0 4.0 0 0 1 288.80 239.37 Z" fill="#f5c226" fill-opacity="0.9"/>
<path d="M289.30 235.40 L288.80 239.37 A4.0 4.0 0 0 1 289.30 231.40 Z" fill="#74c24d" fill-opacity="0.9"/>
<circle cx="287.80" cy="244.30" r="2.35" fill="#fff" opacity="0.7"/>
<path d="M287.80 244.30 L287.80 242.20 A2.1 2.1 0 0 1 289.50 245.53 Z" fill="#fd625e" fill-opacity="0.9"/>
<path d="M287.80 244.30 L289.50 245.53 A2.1 2.1 0 0 1 285.80 244.95 Z" fill="#f5c226" fill-opacity="0.9"/>
<path d="M287.80 244.30 L285.80 244.95 A2.1 2.1 0 0 1 287.80 242.20 Z" fill="#74c24d" fill-opacity="0.9"/>
<circle cx="311.10" cy="260.60" r="2.85" fill="#fff" opacity="0.7"/>
<path d="M311.10 260.60 L311.10 258.00 A2.6 2.6 0 0 1 313.20 262.13 Z" fill="#fd625e" fill-opacity="0.9"/>
<path d="M311.10 260.60 L313.20 262.13 A2.6 2.6 0 0 1 311.90 263.07 Z" fill="#f5c226" fill-opacity="0.9"/>
<path d="M311.10 260.60 L311.90 263.07 A2.6 2.6 0 1 1 311.10 258.00 Z" fill="#74c24d" fill-opacity="0.9"/>
<circle cx="334.90" cy="225.20" r="1.95" fill="#fff" opacity="0.7"/>
<circle cx="334.90" cy="225.20" r="1.70" fill="#f5c226" fill-opacity="0.85"/>
<circle cx="340.40" cy="227.70" r="2.15" fill="#fff" opacity="0.7"/>
<path d="M340.40 227.70 L340.40 225.80 A1.9 1.9 0 1 1 339.28 229.24 Z" fill="#fd625e" fill-opacity="0.9"/>
<path d="M340.40 227.70 L339.28 229.24 A1.9 1.9 0 0 1 340.40 225.80 Z" fill="#74c24d" fill-opacity="0.9"/>
<circle cx="336.70" cy="230.80" r="3.15" fill="#fff" opacity="0.7"/>
<path d="M336.70 230.80 L336.70 227.90 A2.9 2.9 0 0 1 339.05 229.10 Z" fill="#fd625e" fill-opacity="0.9"/>
<path d="M336.70 230.80 L339.05 229.10 A2.9 2.9 0 0 1 339.46 231.70 Z" fill="#f5c226" fill-opacity="0.9"/>
<path d="M336.70 230.80 L339.46 231.70 A2.9 2.9 0 1 1 336.70 227.90 Z" fill="#74c24d" fill-opacity="0.9"/>
<circle cx="334.40" cy="235.00" r="2.15" fill="#fff" opacity="0.7"/>
<path d="M334.40 235.00 L334.40 233.10 A1.9 1.9 0 0 1 336.21 234.41 Z" fill="#f5c226" fill-opacity="0.9"/>
<path d="M334.40 235.00 L336.21 234.41 A1.9 1.9 0 1 1 334.40 233.10 Z" fill="#74c24d" fill-opacity="0.9"/>
<circle cx="341.80" cy="232.80" r="2.15" fill="#fff" opacity="0.7"/>
<path d="M341.80 232.80 L341.80 230.90 A1.9 1.9 0 0 1 341.80 234.70 Z" fill="#fd625e" fill-opacity="0.9"/>
<path d="M341.80 232.80 L341.80 234.70 A1.9 1.9 0 0 1 341.80 230.90 Z" fill="#74c24d" fill-opacity="0.9"/>
<circle cx="352.20" cy="235.40" r="2.45" fill="#fff" opacity="0.7"/>
<path d="M352.20 235.40 L352.20 233.20 A2.2 2.2 0 0 1 353.49 237.18 Z" fill="#fd625e" fill-opacity="0.9"/>
<path d="M352.20 235.40 L353.49 237.18 A2.2 2.2 0 0 1 350.11 236.08 Z" fill="#f5c226" fill-opacity="0.9"/>
<path d="M352.20 235.40 L350.11 236.08 A2.2 2.2 0 0 1 352.20 233.20 Z" fill="#74c24d" fill-opacity="0.9"/>
<circle cx="373.30" cy="244.30" r="3.15" fill="#fff" opacity="0.7"/>
<path d="M373.30 244.30 L373.30 241.40 A2.9 2.9 0 0 1 374.20 241.54 Z" fill="#fd625e" fill-opacity="0.9"/>
<path d="M373.30 244.30 L374.20 241.54 A2.9 2.9 0 0 1 373.30 247.20 Z" fill="#f5c226" fill-opacity="0.9"/>
<path d="M373.30 244.30 L373.30 247.20 A2.9 2.9 0 0 1 373.30 241.40 Z" fill="#74c24d" fill-opacity="0.9"/>
<circle cx="384.40" cy="236.80" r="3.35" fill="#fff" opacity="0.7"/>
<circle cx="384.40" cy="236.80" r="3.10" fill="#74c24d" fill-opacity="0.85"/>
<circle cx="395.60" cy="236.80" r="2.05" fill="#fff" opacity="0.7"/>
<circle cx="395.60" cy="236.80" r="1.80" fill="#74c24d" fill-opacity="0.85"/>
<circle cx="401.10" cy="236.80" r="3.15" fill="#fff" opacity="0.7"/>
<path d="M401.10 236.80 L401.10 233.90 A2.9 2.9 0 0 1 402.00 239.56 Z" fill="#fd625e" fill-opacity="0.9"/>
<path d="M401.10 236.80 L402.00 239.56 A2.9 2.9 0 0 1 398.75 238.50 Z" fill="#f5c226" fill-opacity="0.9"/>
<path d="M401.10 236.80 L398.75 238.50 A2.9 2.9 0 0 1 401.10 233.90 Z" fill="#74c24d" fill-opacity="0.9"/>
<circle cx="390.00" cy="256.10" r="3.15" fill="#fff" opacity="0.7"/>
<path d="M390.00 256.10 L390.00 253.20 A2.9 2.9 0 0 1 392.35 257.80 Z" fill="#fd625e" fill-opacity="0.9"/>
<path d="M390.00 256.10 L392.35 257.80 A2.9 2.9 0 0 1 387.24 257.00 Z" fill="#f5c226" fill-opacity="0.9"/>
<path d="M390.00 256.10 L387.24 257.00 A2.9 2.9 0 0 1 390.00 253.20 Z" fill="#74c24d" fill-opacity="0.9"/>
<circle cx="398.90" cy="267.90" r="2.05" fill="#fff" opacity="0.7"/>
<path d="M398.90 267.90 L398.90 266.10 A1.8 1.8 0 0 1 400.61 267.34 Z" fill="#fd625e" fill-opacity="0.9"/>
<path d="M398.90 267.90 L400.61 267.34 A1.8 1.8 0 1 1 398.90 266.10 Z" fill="#f5c226" fill-opacity="0.9"/>
<text x="291.00" y="227.57" font-size="2.7" fill="#3a3a3a" text-anchor="middle" stroke="#fff" stroke-width="0.5" stroke-opacity="0.6" paint-order="stroke">NORTH</text>
<text x="291.00" y="231.17" font-size="2.7" fill="#3a3a3a" text-anchor="middle" stroke="#fff" stroke-width="0.5" stroke-opacity="0.6" paint-order="stroke">AMERICA</text>
<text x="308.30" y="263.97" font-size="2.7" fill="#3a3a3a" text-anchor="middle" stroke="#fff" stroke-width="0.5" stroke-opacity="0.6" paint-order="stroke">SOUTH</text>
<text x="308.30" y="267.57" font-size="2.7" fill="#3a3a3a" text-anchor="middle" stroke="#fff" stroke-width="0.5" stroke-opacity="0.6" paint-order="stroke">AMERICA</text>
<text x="348.00" y="227.37" font-size="2.7" fill="#3a3a3a" text-anchor="middle" stroke="#fff" stroke-width="0.5" stroke-opacity="0.6" paint-order="stroke">EUROPE</text>
<text x="348.00" y="254.57" font-size="2.7" fill="#3a3a3a" text-anchor="middle" stroke="#fff" stroke-width="0.5" stroke-opacity="0.6" paint-order="stroke">AFRICA</text>
<text x="383.70" y="222.97" font-size="2.7" fill="#3a3a3a" text-anchor="middle" stroke="#fff" stroke-width="0.5" stroke-opacity="0.6" paint-order="stroke">ASIA</text>
<text x="399.00" y="269.27" font-size="2.7" fill="#3a3a3a" text-anchor="middle" stroke="#fff" stroke-width="0.5" stroke-opacity="0.6" paint-order="stroke">AUSTRALIA</text>
<text x="266.30" y="284.29" font-size="3.6" fill="#333" font-weight="bold" >b</text>
<text x="268.60" y="283.83" font-size="2.8" fill="#555" >Bing</text>
<text x="360.40" y="282.85" font-size="2.5" fill="#666" textLength="61.40" lengthAdjust="spacingAndGlyphs" >© 2017 HERE   © 2017 Microsoft Corporation</text>
<text x="435.20" y="184.80" font-size="5.6" fill="#3a3a3a" textLength="35.00" lengthAdjust="spacingAndGlyphs" >Cost vs Revenue</text>
<text x="435.20" y="189.68" font-size="3.3" fill="#a0a0a0" textLength="50.50" lengthAdjust="spacing" >BY PRODUCT AND CATEGORY</text>
<line x1="453.00" y1="198.00" x2="453.00" y2="264.20" stroke="#ccc" stroke-width="0.4" />
<text x="453.00" y="268.84" font-size="2.9" fill="#777" text-anchor="middle" >0 %</text>
<line x1="481.30" y1="198.00" x2="481.30" y2="264.20" stroke="#e6e6e6" stroke-width="0.4" />
<text x="481.30" y="268.84" font-size="2.9" fill="#777" text-anchor="middle" >2 %</text>
<line x1="509.60" y1="198.00" x2="509.60" y2="264.20" stroke="#e6e6e6" stroke-width="0.4" />
<text x="509.60" y="268.84" font-size="2.9" fill="#777" text-anchor="middle" >4 %</text>
<line x1="537.90" y1="198.00" x2="537.90" y2="264.20" stroke="#e6e6e6" stroke-width="0.4" />
<text x="537.90" y="268.84" font-size="2.9" fill="#777" text-anchor="middle" >6 %</text>
<line x1="566.20" y1="198.00" x2="566.20" y2="264.20" stroke="#e6e6e6" stroke-width="0.4" />
<text x="566.20" y="268.84" font-size="2.9" fill="#777" text-anchor="middle" >8 %</text>
<line x1="594.50" y1="198.00" x2="594.50" y2="264.20" stroke="#e6e6e6" stroke-width="0.4" />
<text x="594.50" y="268.84" font-size="2.9" fill="#777" text-anchor="middle" >10 %</text>
<line x1="622.80" y1="198.00" x2="622.80" y2="264.20" stroke="#e6e6e6" stroke-width="0.4" />
<text x="622.80" y="268.84" font-size="2.9" fill="#777" text-anchor="middle" >12 %</text>
<line x1="453.00" y1="207.70" x2="626.00" y2="207.70" stroke="#e6e6e6" stroke-width="0.4" />
<text x="448.80" y="208.74" font-size="2.9" fill="#888" text-anchor="end" >10 %</text>
<line x1="453.00" y1="235.90" x2="626.00" y2="235.90" stroke="#e6e6e6" stroke-width="0.4" />
<text x="448.80" y="236.94" font-size="2.9" fill="#888" text-anchor="end" >5 %</text>
<line x1="453.00" y1="264.20" x2="626.00" y2="264.20" stroke="#ccc" stroke-width="0.4" />
<text x="448.80" y="265.24" font-size="2.9" fill="#888" text-anchor="end" >0 %</text>
<text x="566.50" y="274.95" font-size="2.9" fill="#777" text-anchor="middle" >RevenuePct</text>
<text x="440" y="230" font-size="2.9" fill="#777" text-anchor="middle" transform="rotate(-90 440 230)">SalesCostPct</text>
<circle cx="456.70" cy="262.90" r="2.05" fill="#8ad4eb" fill-opacity="0.78" stroke="#8ad4eb" stroke-width="0.5"/>
<circle cx="460.70" cy="260.60" r="2.05" fill="#a66999" fill-opacity="0.78" stroke="#a66999" stroke-width="0.5"/>
<circle cx="465.30" cy="258.60" r="2.35" fill="#8ad4eb" fill-opacity="0.78" stroke="#8ad4eb" stroke-width="0.5"/>
<circle cx="469.60" cy="258.00" r="2.25" fill="#f2c80f" fill-opacity="0.78" stroke="#f2c80f" stroke-width="0.5"/>
<circle cx="470.30" cy="255.30" r="2.75" fill="#8ad4eb" fill-opacity="0.78" stroke="#8ad4eb" stroke-width="0.5"/>
<circle cx="474.60" cy="255.30" r="2.75" fill="#01b8aa" fill-opacity="0.78" stroke="#01b8aa" stroke-width="0.5"/>
<circle cx="478.00" cy="253.30" r="2.35" fill="#f2c80f" fill-opacity="0.78" stroke="#f2c80f" stroke-width="0.5"/>
<circle cx="474.30" cy="249.70" r="2.75" fill="#a66999" fill-opacity="0.78" stroke="#a66999" stroke-width="0.5"/>
<circle cx="481.20" cy="251.70" r="3.05" fill="#01b8aa" fill-opacity="0.78" stroke="#01b8aa" stroke-width="0.5"/>
<circle cx="490.10" cy="247.00" r="3.05" fill="#8ad4eb" fill-opacity="0.78" stroke="#8ad4eb" stroke-width="0.5"/>
<circle cx="501.40" cy="244.00" r="3.05" fill="#fd625e" fill-opacity="0.78" stroke="#fd625e" stroke-width="0.5"/>
<circle cx="508.30" cy="242.40" r="4.05" fill="#fd625e" fill-opacity="0.78" stroke="#fd625e" stroke-width="0.5"/>
<circle cx="522.20" cy="235.50" r="4.05" fill="#01b8aa" fill-opacity="0.78" stroke="#01b8aa" stroke-width="0.5"/>
<circle cx="533.10" cy="234.80" r="4.35" fill="#f2c80f" fill-opacity="0.78" stroke="#f2c80f" stroke-width="0.5"/>
<circle cx="527.50" cy="228.50" r="4.35" fill="#01b8aa" fill-opacity="0.78" stroke="#01b8aa" stroke-width="0.5"/>
<circle cx="509.30" cy="229.20" r="4.05" fill="#8ad4eb" fill-opacity="0.78" stroke="#8ad4eb" stroke-width="0.5"/>
<circle cx="574.50" cy="218.00" r="5.35" fill="#fd625e" fill-opacity="0.78" stroke="#fd625e" stroke-width="0.5"/>
<circle cx="462.50" cy="260.20" r="1.75" fill="#01b8aa" fill-opacity="0.78" stroke="#01b8aa" stroke-width="0.5"/>
<circle cx="458.60" cy="262.20" r="1.55" fill="#01b8aa" fill-opacity="0.78" stroke="#01b8aa" stroke-width="0.5"/>
<circle cx="471.00" cy="254.40" r="2.55" fill="#8ad4eb" fill-opacity="0.78" stroke="#8ad4eb" stroke-width="0.5"/>
<circle cx="465.20" cy="259.10" r="2.15" fill="#8ad4eb" fill-opacity="0.78" stroke="#8ad4eb" stroke-width="0.5"/>
<circle cx="457.60" cy="262.40" r="1.75" fill="#8ad4eb" fill-opacity="0.78" stroke="#8ad4eb" stroke-width="0.5"/>
<circle cx="476.90" cy="252.30" r="2.35" fill="#8ad4eb" fill-opacity="0.78" stroke="#8ad4eb" stroke-width="0.5"/>
<circle cx="507.60" cy="241.60" r="3.75" fill="#fd625e" fill-opacity="0.78" stroke="#fd625e" stroke-width="0.5"/>
<circle cx="475.20" cy="255.40" r="1.75" fill="#a66999" fill-opacity="0.78" stroke="#a66999" stroke-width="0.5"/>
<text x="435.20" y="283.25" font-size="2.9" fill="#333" font-weight="bold" textLength="37.20" lengthAdjust="spacingAndGlyphs" >ProductCategoryName</text>
<circle cx="478.20" cy="282.50" r="1.70" fill="#8ad4eb" />
<text x="480.20" y="283.25" font-size="2.9" fill="#777" textLength="8.50" lengthAdjust="spacingAndGlyphs" >Decor</text>
<circle cx="494.40" cy="282.50" r="1.70" fill="#01b8aa" />
<text x="496.40" y="283.25" font-size="2.9" fill="#777" textLength="9.40" lengthAdjust="spacingAndGlyphs" >Dining</text>
<circle cx="511.30" cy="282.50" r="1.70" fill="#f2c80f" />
<text x="513.30" y="283.25" font-size="2.9" fill="#777" textLength="21.00" lengthAdjust="spacingAndGlyphs" >Entertainment</text>
<circle cx="540.30" cy="282.50" r="1.70" fill="#fd625e" />
<text x="542.30" y="283.25" font-size="2.9" fill="#777" textLength="12.60" lengthAdjust="spacingAndGlyphs" >Furniture</text>
<circle cx="560.50" cy="282.50" r="1.70" fill="#a66999" />
<text x="562.50" y="283.25" font-size="2.9" fill="#777" textLength="11.40" lengthAdjust="spacingAndGlyphs" >Lighting</text>
<circle cx="579.60" cy="282.50" r="1.70" fill="#8ad4eb" />
<text x="581.60" y="283.25" font-size="2.9" fill="#777" textLength="27.50" lengthAdjust="spacingAndGlyphs" >Pillows &amp; Cushions</text>
<text x="92.40" y="303.20" font-size="5.6" fill="#3a3a3a" textLength="68.20" lengthAdjust="spacingAndGlyphs" >Sentiment by product category</text>
<text x="92.40" y="315.08" font-size="3.0" fill="#333" font-weight="bold" textLength="16.40" lengthAdjust="spacingAndGlyphs" >Sentiment</text>
<circle cx="115.20" cy="314.30" r="1.70" fill="#fd3a36" />
<text x="117.20" y="315.08" font-size="3.0" fill="#777" textLength="12.50" lengthAdjust="spacingAndGlyphs" >Negative</text>
<circle cx="136.20" cy="314.30" r="1.70" fill="#fdb81d" />
<text x="138.20" y="315.08" font-size="3.0" fill="#777" textLength="10.20" lengthAdjust="spacingAndGlyphs" >Neutral</text>
<circle cx="154.80" cy="314.30" r="1.70" fill="#6fbe4c" />
<text x="156.80" y="315.08" font-size="3.0" fill="#777" textLength="11.40" lengthAdjust="spacingAndGlyphs" >Positive</text>
<line x1="121.40" y1="323.50" x2="121.40" y2="396.00" stroke="#aaa" stroke-width="0.4" />
<rect x="121.40" y="325.00" width="13.43" height="6.40" fill="#fd625e" />
<rect x="134.83" y="325.00" width="30.70" height="6.40" fill="#fdb81d" />
<rect x="165.53" y="325.00" width="83.77" height="6.40" fill="#6fbe4c" />
<text x="118.80" y="329.16" font-size="3.7" fill="#808080" text-anchor="end" textLength="26.73" lengthAdjust="spacingAndGlyphs" >Cocktail Glasses</text>
<text x="128.11" y="329.17" font-size="2.7" fill="#222" font-weight="bold" text-anchor="middle" >10%</text>
<text x="150.18" y="329.17" font-size="2.7" fill="#222" font-weight="bold" text-anchor="middle" >24%</text>
<text x="207.41" y="329.17" font-size="2.7" fill="#222" font-weight="bold" text-anchor="middle" >66%</text>
<rect x="121.40" y="333.88" width="19.44" height="6.40" fill="#fd625e" />
<rect x="140.84" y="333.88" width="54.87" height="6.40" fill="#fdb81d" />
<rect x="195.71" y="333.88" width="53.59" height="6.40" fill="#6fbe4c" />
<text x="118.80" y="338.05" font-size="3.7" fill="#808080" text-anchor="end" textLength="14.36" lengthAdjust="spacingAndGlyphs" >Furniture</text>
<text x="131.12" y="338.05" font-size="2.7" fill="#222" font-weight="bold" text-anchor="middle" >15%</text>
<text x="168.28" y="338.05" font-size="2.7" fill="#222" font-weight="bold" text-anchor="middle" >43%</text>
<text x="222.50" y="338.05" font-size="2.7" fill="#222" font-weight="bold" text-anchor="middle" >42%</text>
<rect x="121.40" y="342.77" width="28.01" height="6.40" fill="#fd625e" />
<rect x="149.41" y="342.77" width="27.75" height="6.40" fill="#fdb81d" />
<rect x="177.16" y="342.77" width="72.14" height="6.40" fill="#6fbe4c" />
<text x="118.80" y="346.93" font-size="3.7" fill="#808080" text-anchor="end" textLength="17.55" lengthAdjust="spacingAndGlyphs" >Electronics</text>
<text x="135.41" y="346.94" font-size="2.7" fill="#222" font-weight="bold" text-anchor="middle" >22%</text>
<text x="163.29" y="346.94" font-size="2.7" fill="#222" font-weight="bold" text-anchor="middle" >22%</text>
<text x="213.23" y="346.94" font-size="2.7" fill="#222" font-weight="bold" text-anchor="middle" >57%</text>
<rect x="121.40" y="351.66" width="28.27" height="6.40" fill="#fd625e" />
<rect x="149.67" y="351.66" width="50.01" height="6.40" fill="#fdb81d" />
<rect x="199.67" y="351.66" width="49.63" height="6.40" fill="#6fbe4c" />
<text x="118.80" y="355.82" font-size="3.7" fill="#808080" text-anchor="end" textLength="9.57" lengthAdjust="spacingAndGlyphs" >Décor</text>
<text x="135.53" y="355.82" font-size="2.7" fill="#222" font-weight="bold" text-anchor="middle" >22%</text>
<text x="174.67" y="355.82" font-size="2.7" fill="#222" font-weight="bold" text-anchor="middle" >39%</text>
<text x="224.49" y="355.82" font-size="2.7" fill="#222" font-weight="bold" text-anchor="middle" >39%</text>
<rect x="121.40" y="360.54" width="9.72" height="6.40" fill="#fd625e" />
<rect x="131.12" y="360.54" width="59.35" height="6.40" fill="#fdb81d" />
<rect x="190.47" y="360.54" width="58.83" height="6.40" fill="#6fbe4c" />
<text x="118.80" y="364.70" font-size="3.7" fill="#808080" text-anchor="end" textLength="12.57" lengthAdjust="spacingAndGlyphs" >Lighting</text>
<text x="126.26" y="364.71" font-size="2.7" fill="#222" font-weight="bold" text-anchor="middle" >8%</text>
<text x="160.79" y="364.71" font-size="2.7" fill="#222" font-weight="bold" text-anchor="middle" >46%</text>
<text x="219.88" y="364.71" font-size="2.7" fill="#222" font-weight="bold" text-anchor="middle" >46%</text>
<rect x="121.40" y="369.43" width="42.59" height="6.40" fill="#fd625e" />
<rect x="163.99" y="369.43" width="64.33" height="6.40" fill="#fdb81d" />
<rect x="228.32" y="369.43" width="20.98" height="6.40" fill="#6fbe4c" />
<text x="118.80" y="373.59" font-size="3.7" fill="#808080" text-anchor="end" textLength="12.57" lengthAdjust="spacingAndGlyphs" >Gaming</text>
<text x="142.70" y="373.59" font-size="2.7" fill="#222" font-weight="bold" text-anchor="middle" >33%</text>
<text x="196.16" y="373.59" font-size="2.7" fill="#222" font-weight="bold" text-anchor="middle" >50%</text>
<text x="238.81" y="373.59" font-size="2.7" fill="#222" font-weight="bold" text-anchor="middle" >17%</text>
<rect x="121.40" y="378.31" width="51.16" height="6.40" fill="#fd625e" />
<rect x="172.56" y="378.31" width="51.16" height="6.40" fill="#fdb81d" />
<rect x="223.72" y="378.31" width="25.58" height="6.40" fill="#6fbe4c" />
<text x="118.80" y="382.47" font-size="3.7" fill="#808080" text-anchor="end" textLength="13.76" lengthAdjust="spacingAndGlyphs" >Exercise</text>
<text x="146.98" y="382.48" font-size="2.7" fill="#222" font-weight="bold" text-anchor="middle" >40%</text>
<text x="198.14" y="382.48" font-size="2.7" fill="#222" font-weight="bold" text-anchor="middle" >40%</text>
<text x="236.51" y="382.48" font-size="2.7" fill="#222" font-weight="bold" text-anchor="middle" >20%</text>
<rect x="121.40" y="387.19" width="42.59" height="6.40" fill="#fd625e" />
<rect x="163.99" y="387.19" width="42.97" height="6.40" fill="#fdb81d" />
<rect x="206.97" y="387.19" width="42.33" height="6.40" fill="#6fbe4c" />
<text x="118.80" y="391.36" font-size="3.7" fill="#808080" text-anchor="end" textLength="16.76" lengthAdjust="spacingAndGlyphs" >Gardening</text>
<text x="142.70" y="391.36" font-size="2.7" fill="#222" font-weight="bold" text-anchor="middle" >33%</text>
<text x="185.48" y="391.36" font-size="2.7" fill="#222" font-weight="bold" text-anchor="middle" >33%</text>
<text x="228.13" y="391.36" font-size="2.7" fill="#222" font-weight="bold" text-anchor="middle" >33%</text>
<text x="121.40" y="402.24" font-size="2.9" fill="#777" text-anchor="middle" >0%</text>
<text x="146.98" y="402.24" font-size="2.9" fill="#777" text-anchor="middle" >20%</text>
<text x="172.56" y="402.24" font-size="2.9" fill="#777" text-anchor="middle" >40%</text>
<text x="198.14" y="402.24" font-size="2.9" fill="#777" text-anchor="middle" >60%</text>
<text x="223.72" y="402.24" font-size="2.9" fill="#777" text-anchor="middle" >80%</text>
<text x="249.30" y="402.24" font-size="2.9" fill="#777" text-anchor="middle" >100%</text>
<text x="264.00" y="303.20" font-size="5.6" fill="#3a3a3a" textLength="40.30" lengthAdjust="spacingAndGlyphs" >Store performance</text>
<text x="264.00" y="308.08" font-size="3.3" fill="#a0a0a0" textLength="29.50" lengthAdjust="spacing" >BY DEPARTMENT</text>
<circle cx="279.50" cy="312.00" r="0.70" fill="#444" />
<text x="281.00" y="312.86" font-size="2.4" fill="#888" >(1)</text>
<clipPath id="storeclip"><rect x="260.6" y="293.2" width="168" height="114.6"/></clipPath>
<g clip-path="url(#storeclip)">
<polygon points="280.85,339.94 332.31,315.85 337.69,319.82 359.88,312.81 408.30,336.20 408.30,342.28 395.20,348.36 405.03,350.23 405.03,356.32 392.87,362.40 408.30,366.14 408.30,372.69 393.80,379.24 408.30,380.18 408.30,386.73 361.05,409.42 310.09,409.42 281.55,390.70" fill="#e8e8e5" />
<polygon points="284.36,345.09 331.14,323.10 336.29,327.31 359.88,318.42 402.69,339.47 390.06,345.56 401.29,351.17 388.65,357.72 403.16,367.54 389.59,372.69 403.63,381.58 387.95,389.06 359.88,409.42 310.09,409.42 284.36,389.53" fill="#c8c2af" />
<polygon points="280.85,339.94 332.31,315.85 333.71,318.42 282.25,342.75" fill="#f3f3f1" />
<polygon points="282.25,342.75 333.71,318.42 334.88,320.76 283.89,345.09" fill="#cfc9b8" />
<polygon points="283.89,345.09 334.88,320.76 336.29,323.57 285.76,348.13" fill="#f3f3f1" />
<polygon points="336.29,323.57 359.88,314.68 407.37,337.60 405.50,339.47 359.88,317.02 337.69,325.91" fill="#ecece9" />
<polygon points="361.52,315.15 381.64,324.97 380.23,327.31 360.12,317.49" fill="#1f1f1f" />
<polygon points="363.39,324.50 370.41,327.78 369.47,329.65 362.46,326.37" fill="#303030" />
<polygon points="281.55,352.81 298.86,356.78 298.86,361.93 281.55,360.06" fill="#f3f3f1" />
<polygon points="281.55,367.08 303.54,371.29 303.54,375.96 281.55,374.33" fill="#eef0f2" />
<polygon points="281.55,382.05 289.97,383.92 289.97,389.06 281.55,388.60" fill="#f3f3f1" />
<polygon points="283.89,386.26 295.58,387.19 296.52,390.47 284.82,390.47" fill="#d9b98a" />
<polygon points="390.06,345.56 407.84,336.43 408.30,342.28 395.20,348.60" fill="#ededea" />
<polygon points="388.65,357.72 405.03,350.23 405.03,356.32 392.87,362.40" fill="#ededea" />
<polygon points="389.59,372.69 408.30,366.14 408.30,372.69 393.80,379.24" fill="#ededea" />
<polygon points="387.95,389.06 408.30,380.18 408.30,386.73 389.59,395.38" fill="#ededea" />
<polygon points="303.07,365.20 316.64,358.65 331.14,365.67 317.57,372.69" fill="#fb6767" />
<polygon points="322.72,375.03 333.48,369.42 345.18,375.50 333.48,381.58" fill="#fb6767" />
<polygon points="322.95,358.19 333.48,353.04 344.24,358.19 333.48,363.80" fill="#f4d03c" />
<polygon points="338.63,351.64 350.32,345.56 361.08,351.17 349.39,357.25" fill="#f4d03c" />
<polygon points="303.07,346.96 312.43,342.51 321.78,346.96 312.43,351.40" fill="#efeee8" opacity="0.9"/>
<polygon points="317.57,340.41 324.59,338.07 331.61,340.41 324.59,342.75" fill="#efeee8" opacity="0.9"/>
<polygon points="322.25,348.83 329.27,345.32 336.29,348.83 329.27,352.34" fill="#efeee8" opacity="0.9"/>
<polygon points="331.37,336.20 337.69,332.22 344.01,336.20 337.69,340.18" fill="#efeee8" opacity="0.9"/>
<polygon points="289.04,353.98 297.22,350.94 305.41,353.98 297.22,357.02" fill="#efeee8" opacity="0.9"/>
<polygon points="314.77,353.51 322.95,350.23 331.14,353.51 322.95,356.78" fill="#efeee8" opacity="0.9"/>
<polygon points="307.28,378.30 314.77,375.26 322.25,378.30 314.77,381.35" fill="#efeee8" opacity="0.9"/>
<polygon points="316.64,385.32 326.46,381.35 336.29,385.32 326.46,389.30" fill="#efeee8" opacity="0.9"/>
<polygon points="331.84,392.34 338.63,388.36 345.41,392.34 338.63,396.32" fill="#efeee8" opacity="0.9"/>
<polygon points="301.90,358.19 307.75,355.85 313.60,358.19 307.75,360.53" fill="#efeee8" opacity="0.9"/>
<polygon points="339.33,342.75 345.18,339.94 351.02,342.75 345.18,345.56" fill="#efeee8" opacity="0.9"/>
<polygon points="347.72,336.20 354.50,333.16 361.29,336.20 354.50,339.24" fill="#efeee8" opacity="0.9"/>
<polygon points="363.16,347.89 373.92,344.85 384.68,347.89 373.92,350.94" fill="#efeee8" opacity="0.9"/>
<polygon points="377.43,333.86 383.98,330.82 390.53,333.86 383.98,336.90" fill="#efeee8" opacity="0.9"/>
<polygon points="354.04,356.78 362.22,353.27 370.41,356.78 362.22,360.29" fill="#efeee8" opacity="0.9"/>
<polygon points="367.84,361.93 374.62,357.95 381.40,361.93 374.62,365.91" fill="#efeee8" opacity="0.9"/>
<polygon points="381.87,353.27 390.29,349.77 398.71,353.27 390.29,356.78" fill="#efeee8" opacity="0.9"/>
<polygon points="381.87,367.31 391.46,362.63 401.05,367.31 391.46,371.99" fill="#efeee8" opacity="0.9"/>
<polygon points="349.12,368.95 356.37,364.74 363.63,368.95 356.37,373.16" fill="#efeee8" opacity="0.9"/>
<polygon points="340.00,399.36 347.02,395.85 354.04,399.36 347.02,402.87" fill="#efeee8" opacity="0.9"/>
<polygon points="393.80,339.94 398.48,337.37 403.16,339.94 398.48,342.51" fill="#efeee8" opacity="0.9"/>
<polygon points="339.33,400.76 345.18,397.95 351.02,400.76 345.18,403.57" fill="#efeee8" opacity="0.9"/>
<polygon points="329.97,403.10 334.65,400.76 339.33,403.10 334.65,405.44" fill="#efeee8" opacity="0.9"/>
<polygon points="299.56,345.09 304.94,342.51 310.32,345.09 304.94,347.66" fill="#f1f0ea" opacity="0.85"/>
<polygon points="314.30,344.15 319.44,341.81 324.59,344.15 319.44,346.49" fill="#f1f0ea" opacity="0.85"/>
<polygon points="305.41,351.64 310.09,349.53 314.77,351.64 310.09,353.74" fill="#f1f0ea" opacity="0.85"/>
<polygon points="328.80,342.75 333.48,340.41 338.16,342.75 333.48,345.09" fill="#f1f0ea" opacity="0.85"/>
<polygon points="338.63,337.60 343.30,335.03 347.98,337.60 343.30,340.18" fill="#f1f0ea" opacity="0.85"/>
<polygon points="284.36,349.30 289.04,347.43 293.71,349.30 289.04,351.17" fill="#f1f0ea" opacity="0.85"/>
<polygon points="283.19,363.33 291.37,361.23 299.56,363.33 291.37,365.44" fill="#f1f0ea" opacity="0.85"/>
<polygon points="283.19,378.30 292.54,375.96 301.90,378.30 292.54,380.64" fill="#f1f0ea" opacity="0.85"/>
<polygon points="344.68,345.09 349.36,342.75 354.04,345.09 349.36,347.43" fill="#f1f0ea" opacity="0.85"/>
<polygon points="376.26,357.95 380.94,355.61 385.61,357.95 380.94,360.29" fill="#f1f0ea" opacity="0.85"/>
<polygon points="392.63,345.09 396.14,343.45 399.65,345.09 396.14,346.73" fill="#f1f0ea" opacity="0.85"/>
<polygon points="362.22,371.29 368.07,368.25 373.92,371.29 368.07,374.33" fill="#f1f0ea" opacity="0.85"/>
<polygon points="371.58,380.18 377.43,377.37 383.27,380.18 377.43,382.98" fill="#f1f0ea" opacity="0.85"/>
<polygon points="322.95,395.38 328.80,392.81 334.65,395.38 328.80,397.95" fill="#f1f0ea" opacity="0.85"/>
<polygon points="314.30,390.70 319.44,388.36 324.59,390.70 319.44,393.04" fill="#f1f0ea" opacity="0.85"/>
<polygon points="362.22,335.73 366.90,333.39 371.58,335.73 366.90,338.07" fill="#e7b27c" opacity="0.9"/>
<polygon points="370.41,342.28 376.96,339.24 383.51,342.28 376.96,345.32" fill="#cfe6ea" opacity="0.95"/>
<polygon points="342.60,365.67 348.68,362.63 354.77,365.67 348.68,368.71" fill="#9d9cc6" opacity="0.8"/>
<polygon points="284.36,371.29 293.71,368.48 303.07,371.29 293.71,374.09" fill="#dfe6f2" opacity="0.9"/>
<polygon points="386.78,351.64 390.29,350.00 393.80,351.64 390.29,353.27" fill="#c9a6e0" opacity="0.7"/>
<polygon points="363.16,399.36 366.20,396.78 369.24,399.36 366.20,401.93" fill="#f4f4f2" opacity="1"/>
<polygon points="365.03,398.76 366.20,397.82 367.37,398.76 366.20,399.69" fill="#555" opacity="0.9"/>
<polygon points="368.54,396.90 371.58,394.33 374.62,396.90 371.58,399.47" fill="#f4f4f2" opacity="1"/>
<polygon points="370.41,396.30 371.58,395.36 372.75,396.30 371.58,397.24" fill="#555" opacity="0.9"/>
<polygon points="373.92,394.44 376.96,391.87 380.00,394.44 376.96,397.02" fill="#f4f4f2" opacity="1"/>
<polygon points="375.79,393.84 376.96,392.91 378.13,393.84 376.96,394.78" fill="#555" opacity="0.9"/>
<polygon points="379.30,391.99 382.34,389.42 385.38,391.99 382.34,394.56" fill="#f4f4f2" opacity="1"/>
<polygon points="381.17,391.39 382.34,390.45 383.51,391.39 382.34,392.32" fill="#555" opacity="0.9"/>
<polygon points="384.68,389.53 387.72,386.96 390.76,389.53 387.72,392.11" fill="#f4f4f2" opacity="1"/>
<polygon points="386.55,388.93 387.72,388.00 388.89,388.93 387.72,389.87" fill="#555" opacity="0.9"/>
<polygon points="390.06,387.08 393.10,384.50 396.14,387.08 393.10,389.65" fill="#f4f4f2" opacity="1"/>
<polygon points="391.93,386.48 393.10,385.54 394.27,386.48 393.10,387.41" fill="#555" opacity="0.9"/>
<polygon points="340.73,376.90 346.35,373.86 351.96,376.90 346.35,379.94" fill="#2b2e33" opacity="0.95"/>
<polygon points="351.23,380.18 356.37,377.37 361.52,380.18 356.37,382.98" fill="#2b2e33" opacity="0.95"/>
<polygon points="297.92,358.19 299.80,355.15 301.67,358.19 299.80,361.23" fill="#4a4a4a" opacity="0.95"/>
<polygon points="289.04,387.19 293.25,385.09 297.46,387.19 293.25,389.30" fill="#6f7f6a" />
<polygon points="297.92,385.32 302.13,383.22 306.35,385.32 302.13,387.43" fill="#6f7f6a" />
<polygon points="288.57,392.34 292.78,390.23 296.99,392.34 292.78,394.44" fill="#6f7f6a" />
<polygon points="298.39,390.47 302.60,388.36 306.81,390.47 302.60,392.57" fill="#6f7f6a" />
<polygon points="296.05,396.55 300.26,394.44 304.47,396.55 300.26,398.65" fill="#6f7f6a" />
<polygon points="305.88,394.68 310.09,392.57 314.30,394.68 310.09,396.78" fill="#6f7f6a" />
<polygon points="307.75,400.29 314.77,397.95 322.72,401.23 315.70,404.04" fill="#3c465f" />
</g>
<text x="435.20" y="303.20" font-size="5.6" fill="#3a3a3a" textLength="71.30" lengthAdjust="spacingAndGlyphs" >Order, inventory, lost sales units</text>
<text x="435.20" y="308.08" font-size="3.3" fill="#a0a0a0" textLength="19.30" lengthAdjust="spacing" >OVER TIME</text>
<circle cx="436.50" cy="317.50" r="1.70" fill="#12b0cf" />
<text x="438.40" y="318.25" font-size="2.9" fill="#777" textLength="14.00" lengthAdjust="spacingAndGlyphs" >OrderQty</text>
<circle cx="458.30" cy="317.50" r="1.70" fill="#fd3a36" />
<text x="460.20" y="318.25" font-size="2.9" fill="#777" textLength="19.50" lengthAdjust="spacingAndGlyphs" >LostSalesQty</text>
<circle cx="485.30" cy="317.50" r="1.70" fill="#f5c000" />
<text x="487.20" y="318.25" font-size="2.9" fill="#777" textLength="19.00" lengthAdjust="spacingAndGlyphs" >InventoryQty</text>
<line x1="444.00" y1="324.02" x2="596.50" y2="324.02" stroke="#e6e6e6" stroke-width="0.4" />
<text x="440.80" y="325.06" font-size="2.9" fill="#888" text-anchor="end" >8M</text>
<line x1="444.00" y1="342.21" x2="596.50" y2="342.21" stroke="#e6e6e6" stroke-width="0.4" />
<text x="440.80" y="343.25" font-size="2.9" fill="#888" text-anchor="end" >6M</text>
<line x1="444.00" y1="360.40" x2="596.50" y2="360.40" stroke="#e6e6e6" stroke-width="0.4" />
<text x="440.80" y="361.44" font-size="2.9" fill="#888" text-anchor="end" >4M</text>
<line x1="444.00" y1="378.58" x2="596.50" y2="378.58" stroke="#e6e6e6" stroke-width="0.4" />
<text x="440.80" y="379.62" font-size="2.9" fill="#888" text-anchor="end" >2M</text>
<line x1="444.00" y1="396.77" x2="596.50" y2="396.77" stroke="#ccc" stroke-width="0.4" />
<text x="440.80" y="397.81" font-size="2.9" fill="#888" text-anchor="end" >0M</text>
<rect x="448.81" y="382.22" width="9.13" height="14.55" fill="#12b0cf" />
<text x="453.37" y="403.44" font-size="2.9" fill="#777" text-anchor="middle" >1</text>
<rect x="460.99" y="360.73" width="9.13" height="36.04" fill="#12b0cf" />
<text x="465.55" y="403.44" font-size="2.9" fill="#777" text-anchor="middle" >2</text>
<rect x="473.16" y="367.34" width="9.13" height="29.43" fill="#12b0cf" />
<text x="477.72" y="403.44" font-size="2.9" fill="#777" text-anchor="middle" >3</text>
<rect x="485.34" y="366.68" width="9.13" height="30.09" fill="#12b0cf" />
<text x="489.90" y="403.44" font-size="2.9" fill="#777" text-anchor="middle" >4</text>
<rect x="497.51" y="382.22" width="9.13" height="14.55" fill="#12b0cf" />
<text x="502.08" y="403.44" font-size="2.9" fill="#777" text-anchor="middle" >5</text>
<rect x="509.69" y="360.07" width="9.13" height="36.71" fill="#12b0cf" />
<text x="514.25" y="403.44" font-size="2.9" fill="#777" text-anchor="middle" >6</text>
<rect x="521.87" y="351.47" width="9.13" height="45.30" fill="#12b0cf" />
<text x="526.43" y="403.44" font-size="2.9" fill="#777" text-anchor="middle" >7</text>
<rect x="534.04" y="382.22" width="9.13" height="14.55" fill="#12b0cf" />
<text x="538.60" y="403.44" font-size="2.9" fill="#777" text-anchor="middle" >8</text>
<rect x="546.22" y="367.67" width="9.13" height="29.10" fill="#12b0cf" />
<text x="550.78" y="403.44" font-size="2.9" fill="#777" text-anchor="middle" >9</text>
<rect x="558.39" y="343.53" width="9.13" height="53.24" fill="#12b0cf" />
<text x="562.96" y="403.44" font-size="2.9" fill="#777" text-anchor="middle" >10</text>
<rect x="570.57" y="337.58" width="9.13" height="59.19" fill="#12b0cf" />
<text x="575.13" y="403.44" font-size="2.9" fill="#777" text-anchor="middle" >11</text>
<rect x="582.74" y="329.64" width="9.13" height="67.13" fill="#12b0cf" />
<text x="587.31" y="403.44" font-size="2.9" fill="#777" text-anchor="middle" >12</text>
<polyline points="453.44,384.21 465.67,348.82 477.91,338.57 490.15,338.57 502.05,350.15 514.29,327.33 526.19,326.67 538.43,350.15 550.66,349.48 562.90,339.56 574.80,373.62 587.04,385.86" fill="none" stroke="#f4cb35" stroke-width="0.95" stroke-linejoin="round"/>
<polyline points="453.44,391.48 465.67,386.52 477.91,390.16 490.15,390.82 502.05,394.46 514.29,388.84 526.19,384.21 538.43,394.46 550.66,390.16 562.90,379.91 574.80,366.68 587.04,353.78" fill="none" stroke="#c8787f" stroke-width="0.95" stroke-linejoin="round"/>
<text x="607.00" y="303.20" font-size="5.6" fill="#3a3a3a" textLength="19.00" lengthAdjust="spacingAndGlyphs" >Demand</text>
<text x="607.00" y="308.08" font-size="3.3" fill="#a0a0a0" textLength="21.00" lengthAdjust="spacing" >BY PRODUCT</text>
<rect x="613.30" y="344.10" width="5.20" height="40.30" fill="#fd625e" />
<rect x="619.50" y="341.60" width="5.60" height="42.80" fill="#fd625e" />
<text x="615.30" y="339.80" font-size="2.8" fill="#555" text-anchor="middle" >65 %</text>
<text x="614.6" y="387.0" font-size="2.9" fill="#777" text-anchor="end" transform="rotate(-50 614.6 387.0)">Ch..</text>
<text x="616.9" y="388.6" font-size="2.9" fill="#777" text-anchor="end" transform="rotate(-50 616.9 388.6)">Shaker &</text>
<text x="619.2" y="390.2" font-size="2.9" fill="#777" text-anchor="end" transform="rotate(-50 619.2 390.2)">Cocktail</text>
<text x="620.8" y="387.0" font-size="2.9" fill="#777" text-anchor="end" transform="rotate(-50 620.8 387.0)">Cocktail</text>
<text x="623.1" y="388.6" font-size="2.9" fill="#777" text-anchor="end" transform="rotate(-50 623.1 388.6)">Glasses</text>
<text x="625.4" y="390.2" font-size="2.9" fill="#777" text-anchor="end" transform="rotate(-50 625.4 390.2)">Gaming</text>
</g></g>
</svg>
</body></html>
